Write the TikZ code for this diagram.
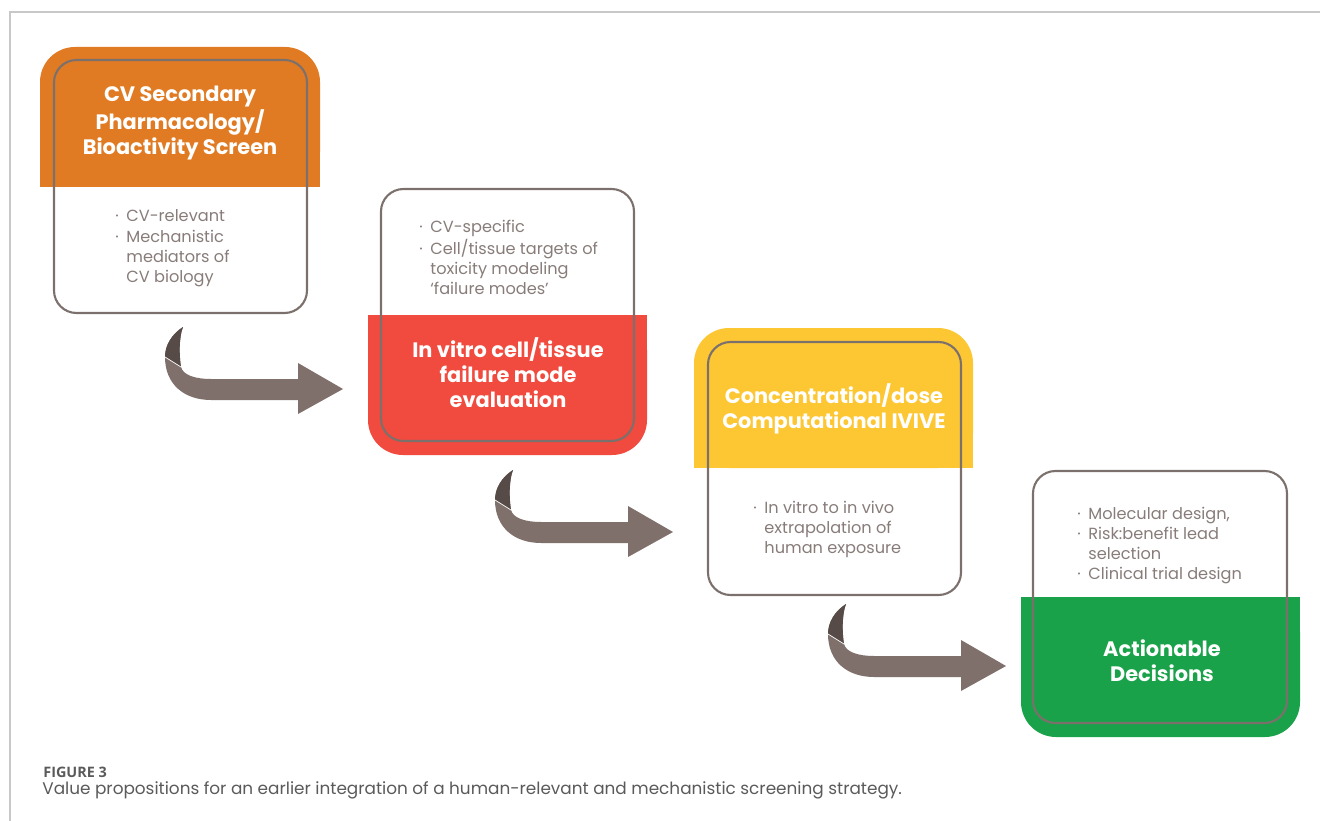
\documentclass[tikz,border=0pt]{standalone}
\usepackage{fontspec}
\setmainfont{Poppins}
\newfontfamily\capfont{Open Sans}

\definecolor{cvorange}{HTML}{E07B24}
\definecolor{cvred}{HTML}{F14A3E}
\definecolor{cvyellow}{HTML}{FDC733}
\definecolor{cvgreen}{HTML}{1AA24A}
\definecolor{boxgray}{HTML}{7C706C}
\definecolor{notegray}{HTML}{877C79}
\definecolor{arrowlight}{HTML}{7F706B}
\definecolor{arrowdark}{HTML}{574B47}
\definecolor{rulegray}{HTML}{C8C8C8}
\definecolor{captext}{HTML}{5A5A5A}

% bullet and hanging indent for the note lists
\newcommand\itm{\makebox[6.3pt][l]{·}}
\newcommand\ind{\hspace*{6.3pt}}

% curled block arrow, (#1,#2) is the tip of the curl
\newcommand\curlarrow[2]{%
  \begin{scope}[shift={(#1,#2)}]
    \fill[arrowlight] (0,0) .. controls (-11,7) and (-18,18) .. (-18,30)
      .. controls (-18,58) and (2,73) .. (28,73) -- (115,73) -- (115,87)
      -- (160,62) -- (115,36) -- (115,52) -- (28,52)
      .. controls (12,52) and (0,48) .. (-2,40)
      .. controls (-4,28) and (-4,10) .. (0,0) -- cycle;
    \fill[arrowdark] (0,0) .. controls (-11,7) and (-18,18) .. (-18,30)
      -- (-2,40) .. controls (-4,28) and (-4,10) .. (0,0) -- cycle;
    \draw[white,line width=0.4pt] (-18,30) -- (-2,40);
  \end{scope}}

\tikzset{
  outline/.style={draw=boxgray,line width=1.2pt,rounded corners=0.45cm},
  title/.style={text=white,align=center,font=\fontsize{11.9}{14.2}\selectfont\bfseries},
  notes/.style={text=notegray,anchor=base west,inner sep=0pt,font=\fontsize{9.2}{11.4}\selectfont},
}

\begin{document}
\begin{tikzpicture}[x=0.02cm,y=-0.02cm]
  \useasboundingbox (0,0) rectangle (1320,821);
  \draw[rulegray,line width=0.85pt] (10,821) -- (10,12) -- (1320,12);

  % screen
  \fill[cvorange,rounded corners=0.7cm] (40,47) rectangle (320,187);
  \fill[cvorange] (40,120) rectangle (320,187);
  \draw[outline] (54,60) rectangle (307,313);
  \node[title] (screen) at (180,123) {CV Secondary\\Pharmacology/\\Bioactivity Screen};
  \node[notes] (screennotes) at (115,222) {\begin{tabular}[t]{@{}l@{}}
    \itm CV-relevant\\ \itm Mechanistic\\ \ind mediators of\\ \ind CV biology\end{tabular}};

  % in vitro
  \fill[cvred,rounded corners=0.7cm] (368,315) rectangle (647,455);
  \fill[cvred] (368,315) rectangle (647,390);
  \draw[outline] (381,189) rectangle (634,441);
  \node[title] (invitro) at (508,373) {In vitro cell/tissue\\failure mode\\evaluation};
  \node[notes] (invitronotes) at (419,233) {\begin{tabular}[t]{@{}l@{}}
    \itm CV-specific\\ \itm Cell/tissue targets of\\ \ind toxicity modeling\\ \ind ‘failure modes’\end{tabular}};

  % ivive
  \fill[cvyellow,rounded corners=0.7cm] (694,328) rectangle (973,468);
  \fill[cvyellow] (694,400) rectangle (973,468);
  \draw[outline] (708,342) rectangle (961,595);
  \node[title] (ivive) at (834,409) {Concentration/dose\\Computational IVIVE};
  \node[notes] (ivivenotes) at (753,513) {\begin{tabular}[t]{@{}l@{}}
    \itm In vitro to in vivo\\ \ind extrapolation of\\ \ind human exposure\end{tabular}};

  % decisions
  \fill[cvgreen,rounded corners=0.7cm] (1021,597) rectangle (1300,737);
  \fill[cvgreen] (1021,597) rectangle (1300,670);
  \draw[outline] (1033,471) rectangle (1287,723);
  \node[title] (decide) at (1162,661) {Actionable\\Decisions};
  \node[notes] (decidenotes) at (1077,519) {\begin{tabular}[t]{@{}l@{}}
    \itm Molecular design,\\ \itm Risk:benefit lead\\ \ind selection\\ \itm Clinical trial design\end{tabular}};

  \curlarrow{183}{327}
  \curlarrow{513}{470}
  \curlarrow{846}{604}

  % caption
  \node[anchor=base west,inner sep=0pt,text=captext,font=\capfont\bfseries\fontsize{8.2}{10}\selectfont] (fignum) at (43,777) {FIGURE 3};
  \node[anchor=base west,inner sep=0pt,text=captext,font=\fontsize{9.6}{11}\selectfont] (figcap) at (42,794)
    {Value propositions for an earlier integration of a human-relevant and mechanistic screening strategy.};
\end{tikzpicture}
\end{document}
